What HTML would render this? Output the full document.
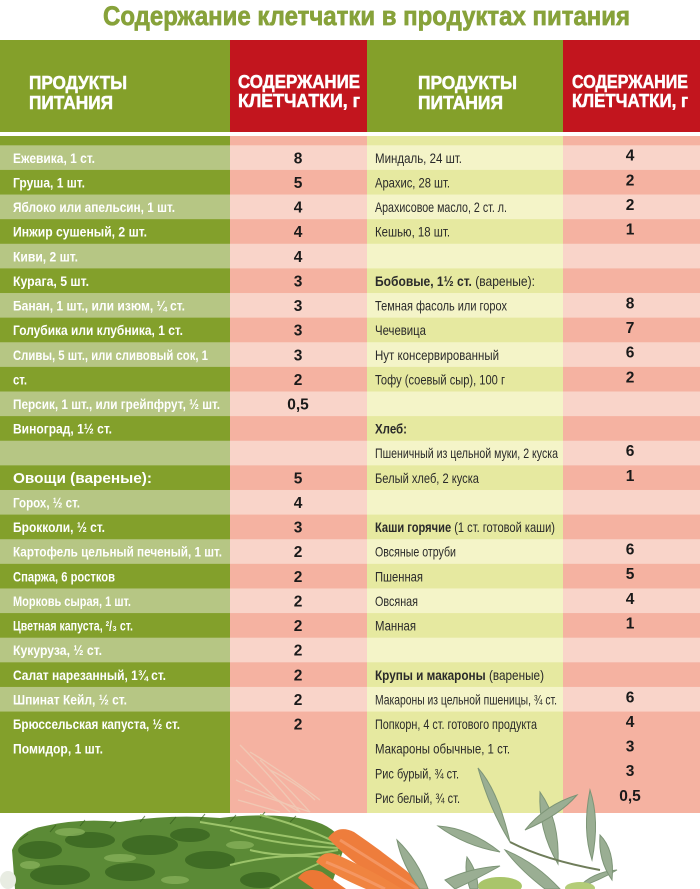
<!DOCTYPE html>
<html><head><meta charset="utf-8">
<style>
html,body{margin:0;padding:0;background:#fff;}
svg{display:block;}
text{font-family:"Liberation Sans Narrow","Liberation Sans","DejaVu Sans",sans-serif;}
.lw{fill:#fff;font-weight:bold;font-size:14px;}
.rd{fill:#2a2a2a;font-size:14px;}
.v{fill:#1a1a1a;font-weight:bold;font-size:15.5px;font-family:"Liberation Sans","DejaVu Sans",sans-serif;}
.h{fill:#fff;font-weight:bold;font-size:18px;stroke:#fff;stroke-width:0.5px;}
</style></head>
<body>
<svg width="700" height="889" viewBox="0 0 700 889" xmlns="http://www.w3.org/2000/svg">
<rect x="0" y="0" width="700" height="889" fill="#fff"/>
<!-- title -->
<text x="103" y="25" font-size="27" font-weight="bold" fill="#87a23a" stroke="#87a23a" stroke-width="0.7" textLength="527" lengthAdjust="spacingAndGlyphs">Содержание клетчатки в продуктах питания</text>

<!-- header -->
<rect x="0" y="40" width="230" height="92" fill="#84a02a"/>
<rect x="230" y="40" width="137" height="92" fill="#c2151e"/>
<rect x="367" y="40" width="196" height="92" fill="#84a02a"/>
<rect x="563" y="40" width="137" height="92" fill="#c2151e"/>
<text class="h" x="29" y="89" textLength="98" lengthAdjust="spacingAndGlyphs">ПРОДУКТЫ</text>
<text class="h" x="29" y="109" textLength="84" lengthAdjust="spacingAndGlyphs">ПИТАНИЯ</text>
<text class="h" x="238" y="88" textLength="122" lengthAdjust="spacingAndGlyphs">СОДЕРЖАНИЕ</text>
<text class="h" x="238" y="107" textLength="122" lengthAdjust="spacingAndGlyphs">КЛЕТЧАТКИ, г</text>
<text class="h" x="418" y="89" textLength="99" lengthAdjust="spacingAndGlyphs">ПРОДУКТЫ</text>
<text class="h" x="418" y="109" textLength="85" lengthAdjust="spacingAndGlyphs">ПИТАНИЯ</text>
<text class="h" x="572" y="88" textLength="116" lengthAdjust="spacingAndGlyphs">СОДЕРЖАНИЕ</text>
<text class="h" x="572" y="107" textLength="116" lengthAdjust="spacingAndGlyphs">КЛЕТЧАТКИ, г</text>

<!-- body dark columns -->
<rect x="0" y="136" width="230" height="677" fill="#83a02b"/>
<rect x="230" y="136" width="137" height="677" fill="#f5b2a1"/>
<rect x="367" y="136" width="196" height="677" fill="#e6e9a0"/>
<rect x="563" y="136" width="137" height="677" fill="#f5b2a1"/>

<!-- light rows -->
<g>
<rect x="0" y="145.3" width="230" height="24.62" fill="#b6c684"/><rect x="230" y="145.3" width="137" height="24.62" fill="#f9d4c9"/><rect x="367" y="145.3" width="196" height="24.62" fill="#f4f4c8"/><rect x="563" y="145.3" width="137" height="24.62" fill="#f9d4c9"/>
<rect x="0" y="194.54" width="230" height="24.62" fill="#b6c684"/><rect x="230" y="194.54" width="137" height="24.62" fill="#f9d4c9"/><rect x="367" y="194.54" width="196" height="24.62" fill="#f4f4c8"/><rect x="563" y="194.54" width="137" height="24.62" fill="#f9d4c9"/>
<rect x="0" y="243.78" width="230" height="24.62" fill="#b6c684"/><rect x="230" y="243.78" width="137" height="24.62" fill="#f9d4c9"/><rect x="367" y="243.78" width="196" height="24.62" fill="#f4f4c8"/><rect x="563" y="243.78" width="137" height="24.62" fill="#f9d4c9"/>
<rect x="0" y="293.02" width="230" height="24.62" fill="#b6c684"/><rect x="230" y="293.02" width="137" height="24.62" fill="#f9d4c9"/><rect x="367" y="293.02" width="196" height="24.62" fill="#f4f4c8"/><rect x="563" y="293.02" width="137" height="24.62" fill="#f9d4c9"/>
<rect x="0" y="342.26" width="230" height="24.62" fill="#b6c684"/><rect x="230" y="342.26" width="137" height="24.62" fill="#f9d4c9"/><rect x="367" y="342.26" width="196" height="24.62" fill="#f4f4c8"/><rect x="563" y="342.26" width="137" height="24.62" fill="#f9d4c9"/>
<rect x="0" y="391.5" width="230" height="24.62" fill="#b6c684"/><rect x="230" y="391.5" width="137" height="24.62" fill="#f9d4c9"/><rect x="367" y="391.5" width="196" height="24.62" fill="#f4f4c8"/><rect x="563" y="391.5" width="137" height="24.62" fill="#f9d4c9"/>
<rect x="0" y="440.74" width="230" height="24.62" fill="#b6c684"/><rect x="230" y="440.74" width="137" height="24.62" fill="#f9d4c9"/><rect x="367" y="440.74" width="196" height="24.62" fill="#f4f4c8"/><rect x="563" y="440.74" width="137" height="24.62" fill="#f9d4c9"/>
<rect x="0" y="489.98" width="230" height="24.62" fill="#b6c684"/><rect x="230" y="489.98" width="137" height="24.62" fill="#f9d4c9"/><rect x="367" y="489.98" width="196" height="24.62" fill="#f4f4c8"/><rect x="563" y="489.98" width="137" height="24.62" fill="#f9d4c9"/>
<rect x="0" y="539.22" width="230" height="24.62" fill="#b6c684"/><rect x="230" y="539.22" width="137" height="24.62" fill="#f9d4c9"/><rect x="367" y="539.22" width="196" height="24.62" fill="#f4f4c8"/><rect x="563" y="539.22" width="137" height="24.62" fill="#f9d4c9"/>
<rect x="0" y="588.46" width="230" height="24.62" fill="#b6c684"/><rect x="230" y="588.46" width="137" height="24.62" fill="#f9d4c9"/><rect x="367" y="588.46" width="196" height="24.62" fill="#f4f4c8"/><rect x="563" y="588.46" width="137" height="24.62" fill="#f9d4c9"/>
<rect x="0" y="637.7" width="230" height="24.62" fill="#b6c684"/><rect x="230" y="637.7" width="137" height="24.62" fill="#f9d4c9"/><rect x="367" y="637.7" width="196" height="24.62" fill="#f4f4c8"/><rect x="563" y="637.7" width="137" height="24.62" fill="#f9d4c9"/>
<rect x="0" y="686.94" width="230" height="24.62" fill="#b6c684"/><rect x="230" y="686.94" width="137" height="24.62" fill="#f9d4c9"/><rect x="367" y="686.94" width="196" height="24.62" fill="#f4f4c8"/><rect x="563" y="686.94" width="137" height="24.62" fill="#f9d4c9"/>
</g>

<!-- faded carrot stems over col2 -->
<g stroke="#f0cdb8" stroke-width="1.3" fill="none" opacity="0.85">
<path d="M240 745 Q265 770 300 812"/><path d="M236 760 Q262 785 290 812"/><path d="M245 790 Q275 800 310 812"/>
<path d="M250 752 Q280 770 320 800"/><path d="M236 780 Q270 795 300 812"/><path d="M260 760 Q290 790 310 812"/>
<path d="M238 800 L280 812"/><path d="M270 770 Q300 785 315 800"/>
</g>

<!-- left labels -->
<g class="lw">
<text x="13" y="162.8" textLength="82" lengthAdjust="spacingAndGlyphs">Ежевика, 1 ст.</text>
<text x="13" y="187.4" textLength="72" lengthAdjust="spacingAndGlyphs">Груша, 1 шт.</text>
<text x="13" y="212.0" textLength="162" lengthAdjust="spacingAndGlyphs">Яблоко или апельсин, 1 шт.</text>
<text x="13" y="236.7" textLength="134" lengthAdjust="spacingAndGlyphs">Инжир сушеный, 2 шт.</text>
<text x="13" y="261.3" textLength="65" lengthAdjust="spacingAndGlyphs">Киви, 2 шт.</text>
<text x="13" y="285.9" textLength="76" lengthAdjust="spacingAndGlyphs">Курага, 5 шт.</text>
<text x="13" y="310.5" textLength="172" lengthAdjust="spacingAndGlyphs">Банан, 1 шт., или изюм, ¼ ст.</text>
<text x="13" y="335.1" textLength="170" lengthAdjust="spacingAndGlyphs">Голубика или клубника, 1 ст.</text>
<text x="13" y="359.8" textLength="195" lengthAdjust="spacingAndGlyphs">Сливы, 5 шт., или сливовый сок, 1</text>
<text x="13" y="384.4" textLength="14" lengthAdjust="spacingAndGlyphs">ст.</text>
<text x="13" y="409.0" textLength="207" lengthAdjust="spacingAndGlyphs">Персик, 1 шт., или грейпфрут, ½ шт.</text>
<text x="13" y="433.6" textLength="99" lengthAdjust="spacingAndGlyphs">Виноград, 1½ ст.</text>
<text x="13" y="482.9" textLength="139" lengthAdjust="spacingAndGlyphs" style="font-size:15px">Овощи (вареные):</text>
<text x="13" y="507.5" textLength="67" lengthAdjust="spacingAndGlyphs">Горох, ½ ст.</text>
<text x="13" y="532.1" textLength="92" lengthAdjust="spacingAndGlyphs">Брокколи, ½ ст.</text>
<text x="13" y="556.7" textLength="209" lengthAdjust="spacingAndGlyphs">Картофель цельный печеный, 1 шт.</text>
<text x="13" y="581.3" textLength="102" lengthAdjust="spacingAndGlyphs">Спаржа, 6 ростков</text>
<text x="13" y="606.0" textLength="118" lengthAdjust="spacingAndGlyphs">Морковь сырая, 1 шт.</text>
<text x="13" y="630.6" textLength="120" lengthAdjust="spacingAndGlyphs">Цветная капуста, ²/₃ ст.</text>
<text x="13" y="655.2" textLength="89" lengthAdjust="spacingAndGlyphs">Кукуруза, ½ ст.</text>
<text x="13" y="679.8" textLength="153" lengthAdjust="spacingAndGlyphs">Салат нарезанный, 1¾ ст.</text>
<text x="13" y="704.4" textLength="114" lengthAdjust="spacingAndGlyphs">Шпинат Кейл, ½ ст.</text>
<text x="13" y="729.1" textLength="167" lengthAdjust="spacingAndGlyphs">Брюссельская капуста, ½ ст.</text>
<text x="13" y="753.7" textLength="90" lengthAdjust="spacingAndGlyphs">Помидор, 1 шт.</text>
</g>

<!-- left values -->
<g class="v" text-anchor="middle">
<text x="298" y="163.3">8</text>
<text x="298" y="187.9">5</text>
<text x="298" y="212.5">4</text>
<text x="298" y="237.2">4</text>
<text x="298" y="261.8">4</text>
<text x="298" y="286.4">3</text>
<text x="298" y="311.0">3</text>
<text x="298" y="335.6">3</text>
<text x="298" y="360.3">3</text>
<text x="298" y="384.9">2</text>
<text x="298" y="409.5">0,5</text>
<text x="298" y="483.4">5</text>
<text x="298" y="508.0">4</text>
<text x="298" y="532.6">3</text>
<text x="298" y="557.2">2</text>
<text x="298" y="581.8">2</text>
<text x="298" y="606.5">2</text>
<text x="298" y="631.1">2</text>
<text x="298" y="655.7">2</text>
<text x="298" y="680.3">2</text>
<text x="298" y="704.9">2</text>
<text x="298" y="729.6">2</text>
</g>

<!-- right labels -->
<g class="rd">
<text x="375" y="162.8" textLength="87" lengthAdjust="spacingAndGlyphs">Миндаль, 24 шт.</text>
<text x="375" y="187.4" textLength="75" lengthAdjust="spacingAndGlyphs">Арахис, 28 шт.</text>
<text x="375" y="212.0" textLength="132" lengthAdjust="spacingAndGlyphs">Арахисовое масло, 2 ст. л.</text>
<text x="375" y="236.7" textLength="75" lengthAdjust="spacingAndGlyphs">Кешью, 18 шт.</text>
<text x="375" y="285.9" textLength="160" lengthAdjust="spacingAndGlyphs"><tspan font-weight="bold">Бобовые, 1½ ст.</tspan> (вареные):</text>
<text x="375" y="310.5" textLength="132" lengthAdjust="spacingAndGlyphs">Темная фасоль или горох</text>
<text x="375" y="335.1" textLength="51" lengthAdjust="spacingAndGlyphs">Чечевица</text>
<text x="375" y="359.8" textLength="124" lengthAdjust="spacingAndGlyphs">Нут консервированный</text>
<text x="375" y="384.4" textLength="130" lengthAdjust="spacingAndGlyphs">Тофу (соевый сыр), 100 г</text>
<text x="375" y="433.6" textLength="32" lengthAdjust="spacingAndGlyphs" font-weight="bold">Хлеб:</text>
<text x="375" y="458.2" textLength="183" lengthAdjust="spacingAndGlyphs">Пшеничный из цельной муки, 2 куска</text>
<text x="375" y="482.9" textLength="104" lengthAdjust="spacingAndGlyphs">Белый хлеб, 2 куска</text>
<text x="375" y="532.1" textLength="180" lengthAdjust="spacingAndGlyphs"><tspan font-weight="bold">Каши горячие</tspan> (1 ст. готовой каши)</text>
<text x="375" y="556.7" textLength="81" lengthAdjust="spacingAndGlyphs">Овсяные отруби</text>
<text x="375" y="581.3" textLength="48" lengthAdjust="spacingAndGlyphs">Пшенная</text>
<text x="375" y="606.0" textLength="43" lengthAdjust="spacingAndGlyphs">Овсяная</text>
<text x="375" y="630.6" textLength="41" lengthAdjust="spacingAndGlyphs">Манная</text>
<text x="375" y="679.8" textLength="169" lengthAdjust="spacingAndGlyphs"><tspan font-weight="bold">Крупы и макароны</tspan> (вареные)</text>
<text x="375" y="704.4" textLength="182" lengthAdjust="spacingAndGlyphs">Макароны из цельной пшеницы, ¾ ст.</text>
<text x="375" y="729.1" textLength="162" lengthAdjust="spacingAndGlyphs">Попкорн, 4 ст. готового продукта</text>
<text x="375" y="753.7" textLength="135" lengthAdjust="spacingAndGlyphs">Макароны обычные, 1 ст.</text>
<text x="375" y="778.3" textLength="84" lengthAdjust="spacingAndGlyphs">Рис бурый, ¾ ст.</text>
<text x="375" y="802.9" textLength="85" lengthAdjust="spacingAndGlyphs">Рис белый, ¾ ст.</text>
</g>

<!-- right values -->
<g class="v" text-anchor="middle">
<text x="630" y="160.7">4</text>
<text x="630" y="185.3">2</text>
<text x="630" y="209.9">2</text>
<text x="630" y="234.6">1</text>
<text x="630" y="308.4">8</text>
<text x="630" y="333.0">7</text>
<text x="630" y="357.7">6</text>
<text x="630" y="382.3">2</text>
<text x="630" y="456.1">6</text>
<text x="630" y="480.8">1</text>
<text x="630" y="554.6">6</text>
<text x="630" y="579.2">5</text>
<text x="630" y="603.9">4</text>
<text x="630" y="628.5">1</text>
<text x="630" y="702.3">6</text>
<text x="630" y="727.0">4</text>
<text x="630" y="751.6">3</text>
<text x="630" y="776.2">3</text>
<text x="630" y="800.8">0,5</text>
</g>

<!-- bottom decoration: carrot foliage -->
<g>
<path d="M15 889 L12 850 Q20 830 45 826 Q80 818 120 822 Q170 814 220 818 Q270 812 310 820 Q335 826 345 845 L330 889 Z" fill="#5b8a36"/>
<g fill="#3f6c24">
<ellipse cx="40" cy="850" rx="22" ry="9"/><ellipse cx="90" cy="840" rx="25" ry="8"/><ellipse cx="150" cy="845" rx="28" ry="10"/>
<ellipse cx="60" cy="875" rx="30" ry="10"/><ellipse cx="130" cy="872" rx="25" ry="9"/><ellipse cx="210" cy="860" rx="25" ry="9"/>
<ellipse cx="260" cy="880" rx="20" ry="8"/><ellipse cx="190" cy="835" rx="20" ry="7"/>
</g>
<g fill="#86b05a" opacity="0.8">
<ellipse cx="70" cy="832" rx="15" ry="4"/><ellipse cx="120" cy="858" rx="16" ry="4"/><ellipse cx="30" cy="865" rx="10" ry="4"/>
<ellipse cx="175" cy="880" rx="14" ry="4"/><ellipse cx="240" cy="845" rx="14" ry="4"/>
</g>
<g stroke="#35601d" stroke-width="1" fill="none" opacity="0.7">
<path d="M20 840 l8 -6 M50 832 l6 -7 M80 826 l5 -6 M110 828 l6 -7 M140 822 l5 -6 M170 824 l6 -7 M200 820 l5 -6 M230 822 l6 -7 M260 818 l5 -6 M290 822 l6 -6"/>
</g>
<g fill="#e8ece2">
<ellipse cx="8" cy="880" rx="8" ry="9"/>
</g>
<g stroke="#9cc46a" stroke-width="2" fill="none">
<path d="M340 845 Q280 835 200 822"/><path d="M340 848 Q270 845 230 830"/><path d="M338 850 Q290 860 250 850"/>
<path d="M335 842 Q300 825 260 815"/><path d="M340 855 Q300 870 270 889"/><path d="M335 860 Q290 850 230 865"/>
</g>
</g>

<!-- carrots -->
<g>
<path d="M328 838 Q338 824 354 832 Q395 860 428 889 L392 889 Q350 862 328 838 Z" fill="#ee7d3c"/>
<path d="M316 862 Q324 848 340 856 Q375 872 402 889 L366 889 Q335 876 316 862 Z" fill="#f08440"/>
<path d="M298 878 Q306 866 322 872 L346 889 L314 889 Z" fill="#ec7735"/>
<path d="M340 840 Q380 865 418 889" stroke="#f6a070" stroke-width="3" fill="none" opacity="0.7"/>
<path d="M326 862 Q355 874 385 889" stroke="#f6a070" stroke-width="3" fill="none" opacity="0.7"/>
</g>

<!-- sea buckthorn leaves -->
<g fill="#9aae93" stroke="#7d9577" stroke-width="1">
<path d="M478 768 Q498 790 510 842 Q490 810 478 768 Z"/>
<path d="M438 826 Q470 828 500 852 Q465 846 438 826 Z"/>
<path d="M540 792 Q560 820 558 864 Q538 830 540 792 Z"/>
<path d="M577 795 Q560 815 525 830 Q545 805 577 795 Z"/>
<path d="M590 790 Q600 820 592 860 Q582 830 590 790 Z"/>
<path d="M617 870 Q600 880 578 888 Q592 872 617 870 Z"/>
<path d="M397 840 Q418 860 428 889 L420 889 Q402 865 397 840 Z"/>
<path d="M467 857 Q478 872 478 889 L470 889 Q464 872 467 857 Z"/>
<path d="M505 850 Q535 862 560 889 L545 889 Q520 870 505 850 Z"/>
<path d="M445 880 Q470 868 500 866 Q475 880 455 889 Z"/>
<path d="M600 835 Q615 850 612 880 Q598 860 600 835 Z"/>
</g>
<path d="M510 842 Q545 860 600 870" stroke="#6f7d5a" stroke-width="2" fill="none"/>
<ellipse cx="500" cy="886" rx="22" ry="9" fill="#a9c56a"/>
<ellipse cx="580" cy="888" rx="15" ry="6" fill="#b3cc78"/>
</svg>
</body></html>
